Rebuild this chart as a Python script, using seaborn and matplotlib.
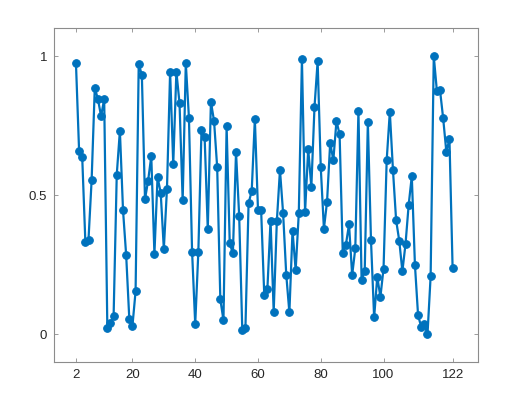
import numpy as np
import pandas as pd
import matplotlib
matplotlib.use("Agg")
import matplotlib.pyplot as plt
import seaborn as sns

# values, x runs 2..122
x_values = list(range(2, 123))
y_values = [
    0.976, 0.661, 0.637, 0.332, 0.341, 0.556, 0.886, 0.846, 0.785, 0.845,
    0.025, 0.042, 0.067, 0.574, 0.732, 0.446, 0.285, 0.056, 0.031, 0.155,
    0.973, 0.932, 0.486, 0.553, 0.641, 0.289, 0.565, 0.510, 0.307, 0.523,
    0.943, 0.612, 0.944, 0.831, 0.482, 0.975, 0.779, 0.298, 0.037, 0.298,
    0.736, 0.708, 0.378, 0.836, 0.767, 0.600, 0.126, 0.051, 0.748, 0.327,
    0.291, 0.655, 0.427, 0.015, 0.024, 0.472, 0.515, 0.775, 0.447, 0.446,
    0.140, 0.165, 0.409, 0.081, 0.406, 0.591, 0.436, 0.215, 0.079, 0.373,
    0.231, 0.436, 0.988, 0.441, 0.666, 0.530, 0.817, 0.982, 0.600, 0.380,
    0.477, 0.689, 0.626, 0.767, 0.719, 0.294, 0.322, 0.396, 0.213, 0.309,
    0.803, 0.197, 0.227, 0.763, 0.338, 0.061, 0.207, 0.135, 0.237, 0.626,
    0.800, 0.591, 0.411, 0.337, 0.227, 0.325, 0.465, 0.569, 0.250, 0.069,
    0.027, 0.036, 0.000, 0.209, 1.000, 0.874, 0.877, 0.776, 0.657, 0.701,
    0.239,
]
x_ticks = [2, 20, 40, 60, 80, 100, 122]
y_ticks = [0, 0.5, 1]
y_tick_labels = ["0", "0.5", "1"]

df = pd.DataFrame({"x": x_values, "y": y_values})

sns.set_style("white")
plt.rcParams["font.family"] = ["Liberation Sans", "DejaVu Sans"]

fig = plt.figure(figsize=(5.23, 3.99), dpi=100)
ax = fig.add_axes([0.1038, 0.092, 0.8096, 0.837])

sns.lineplot(data=df, x="x", y="y", ax=ax, color="#0072BD", linewidth=1.6,
             marker="o", markersize=5.5, markeredgecolor="#0072BD")

ax.set_xlim(-4.9, 130)
ax.set_ylim(-0.1, 1.1)
ax.set_xticks(x_ticks)
ax.set_yticks(y_ticks)
ax.set_yticklabels(y_tick_labels)
ax.set_xlabel("")
ax.set_ylabel("")

for side in ["left", "right", "top", "bottom"]:
    ax.spines[side].set_visible(True)
    ax.spines[side].set_color("#8c8c8c")
    ax.spines[side].set_linewidth(0.8)
ax.tick_params(direction="in", length=3, width=0.6, color="#8c8c8c",
               labelsize=9.5, labelcolor="#262626", top=True, right=True,
               bottom=True, left=True, pad=5)

fig.savefig("out.png", dpi=100)
